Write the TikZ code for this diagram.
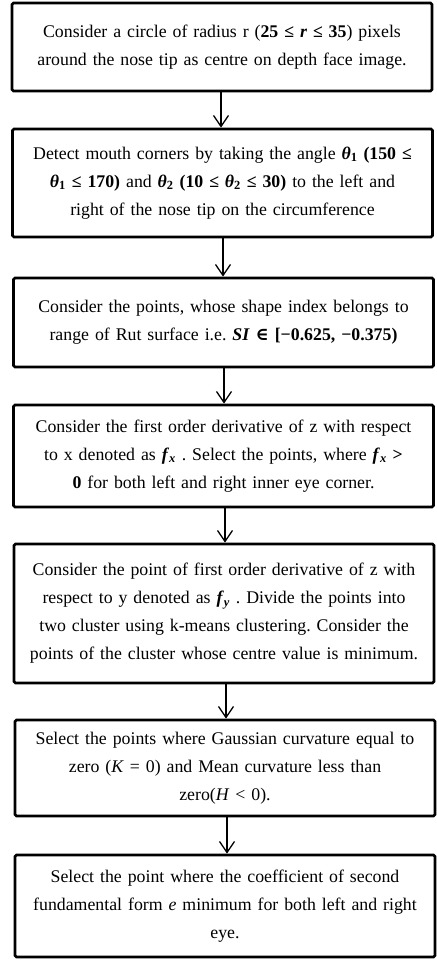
\documentclass[tikz,border=0pt]{standalone}
\usepackage{fontspec}
\setmainfont{Liberation Serif}
\newfontfamily\symfont{DejaVu Serif}
\usetikzlibrary{arrows.meta}
\newcommand{\mth}[1]{\textbf{\textit{#1}}}
\newcommand{\mup}[1]{\textbf{#1}}
\frenchspacing
\begin{document}
\begin{tikzpicture}[x=1pt,y=-1pt,
  stepbox/.style={draw=black,line width=2.8pt,rounded corners=1.5pt,fill=white,
    minimum width=420pt,align=center,font=\fontsize{17.8}{28}\selectfont,
    text width=408pt,inner sep=0pt},
  flow/.style={draw=black,line width=1.3pt,-{Straight Barb[length=11pt,width=15pt,line width=1.3pt]}}]
\useasboundingbox (0,0) rectangle (436,960);
\fill[white] (0,0) rectangle (436,960);
\node[stepbox,minimum height=88pt] (b1) at (222,47)
  {Consider a circle of radius r (\mup{25} \mup{≤} \mth{r} \mup{≤} \mup{35}) pixels\\around the nose tip as centre on depth face image.};
\node[stepbox,minimum height=108pt] (b2) at (222.5,183)
  {Detect mouth corners by taking the angle \mth{θ}\textsubscript{\mup{1}} \mup{(150 ≤}\\\mth{θ}\textsubscript{\mup{1}} \mup{≤ 170)} and \mth{θ}\textsubscript{\mup{2}} \mup{(10 ≤} \mth{θ}\textsubscript{\mup{2}} \mup{≤ 30)} to the left and\\right of the nose tip on the circumference};
\node[stepbox,minimum height=89pt] (b3) at (223.5,322.5)
  {Consider the points, whose shape index belongs to\\range of Rut surface i.e. \mth{SI} {\symfont\bfseries ∈} \mup{[−0.625, −0.375)}};
\node[stepbox,minimum height=102pt] (b4) at (223.5,456)
  {Consider the first order derivative of z with respect\\to x denoted as \mth{f}\textsubscript{\mth{x}} . Select the points, where \mth{f}\textsubscript{\mth{x}} \mup{>}\\\mup{0} for both left and right inner eye corner.};
\node[stepbox,minimum height=139pt] (b5) at (224,613.5)
  {Consider the point of first order derivative of z with\\respect to y denoted as \mth{f}\textsubscript{\mth{y}} . Divide the points into\\two cluster using k-means clustering. Consider the\\points of the cluster whose centre value is minimum.};
\node[stepbox,minimum height=96pt] (b6) at (225,768)
  {Select the points where Gaussian curvature equal to\\zero (\textit{K} = 0) and Mean curvature less than\\zero(\textit{H} < 0).};
\node[stepbox,minimum height=102pt] (b7) at (225,906)
  {Select the point where the coefficient of second\\fundamental form \textit{e} minimum for both left and right\\eye.};
\draw[flow] (b1.south -| 221,0) -- (b2.north -| 221,0);
\draw[flow] (b2.south -| 223,0) -- (b3.north -| 223,0);
\draw[flow] (b3.south -| 224,0) -- (b4.north -| 224,0);
\draw[flow] (b4.south -| 225,0) -- (b5.north -| 225,0);
\draw[flow] (b5.south -| 226,0) -- (b6.north -| 226,0);
\draw[flow] (b6.south -| 227,0) -- (b7.north -| 227,0);
\end{tikzpicture}
\end{document}
